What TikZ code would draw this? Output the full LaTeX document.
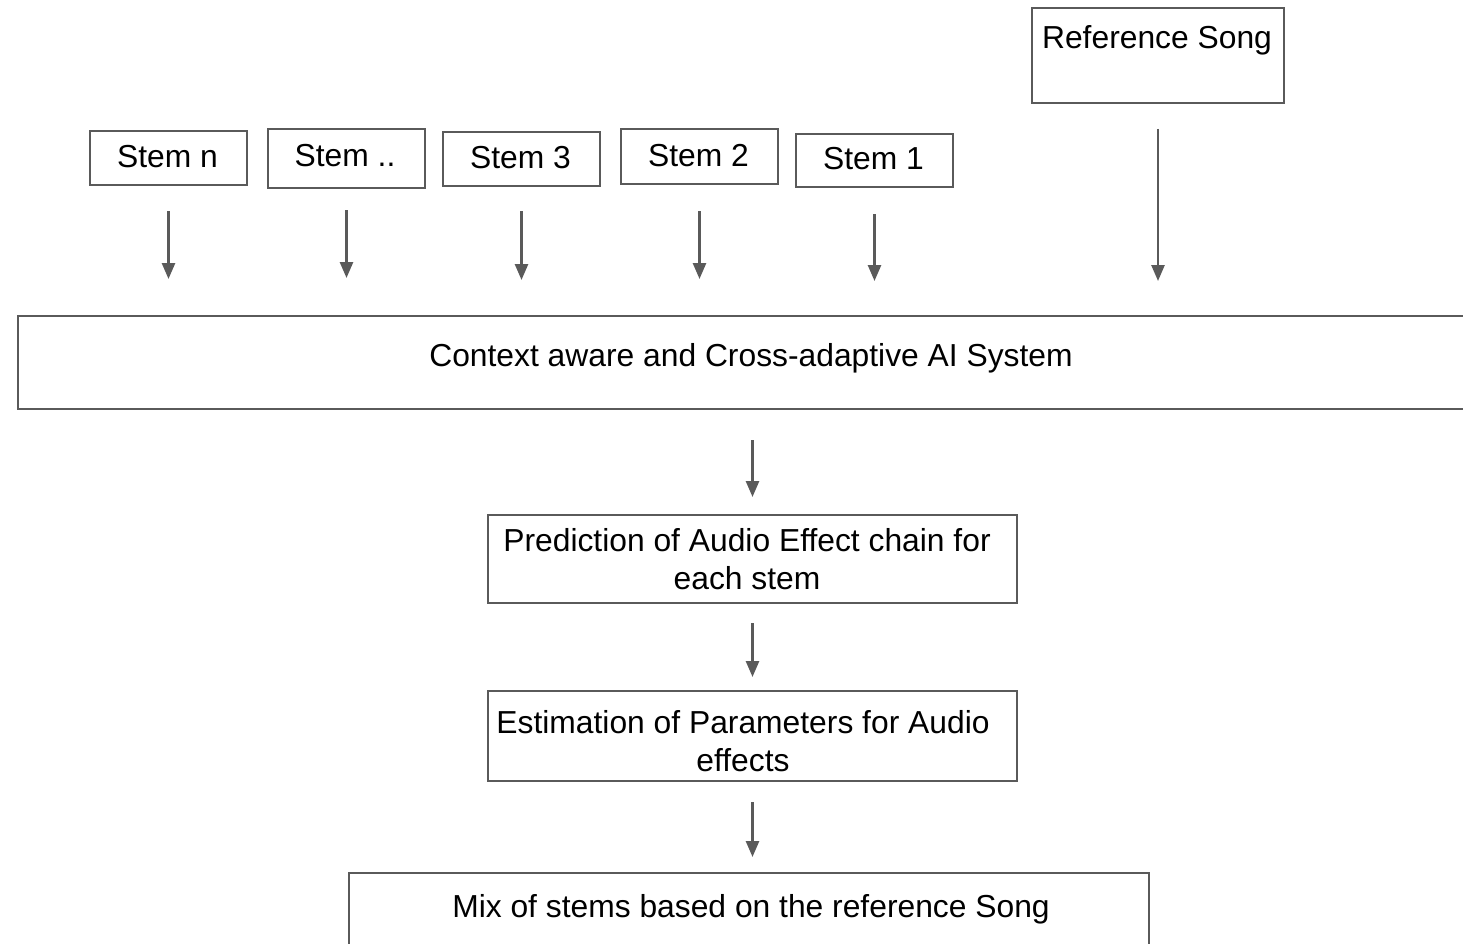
\documentclass[tikz,border=0pt]{standalone}
\usepackage{fontspec}
\setmainfont{Liberation Sans}
\usetikzlibrary{arrows.meta}
\definecolor{edgegray}{HTML}{5A5A5A}
\begin{document}
\begin{tikzpicture}[x=1pt,y=-1pt,
  box/.style={draw=edgegray,line width=2pt,rectangle,inner sep=0pt,anchor=north west},
  txt/.style={font=\fontsize{31.8}{38}\selectfont,inner sep=0pt,align=center,text=black},
  lowtxt/.style={txt,yshift=-3pt},
  arr/.style={draw=edgegray,line width=2.6pt,-{Triangle[length=16pt,width=13pt]}}]
\useasboundingbox (0,0) rectangle (1463,944);
\fill[white] (0,0) rectangle (1463,944);
\clip (0,0) rectangle (1463,944);

% reference input
\node[box,minimum width=252pt,minimum height=95pt] (ref) at (1031,7) {};
\node[lowtxt] (reft) at (1157,37) {Reference Song};

% stems
\node[box,minimum width=157pt,minimum height=54pt] (s5) at (89,130) {};
\node[txt] (s5t) at (167.5,157) {Stem n};
\node[box,minimum width=157pt,minimum height=59pt] (s4) at (267,128) {};
\node[txt] (s4t) at (345,156) {Stem ..};
\node[box,minimum width=157pt,minimum height=54pt] (s3) at (442,131) {};
\node[txt] (s3t) at (520.5,158) {Stem 3};
\node[box,minimum width=157pt,minimum height=55pt] (s2) at (620,128) {};
\node[txt] (s2t) at (698.5,156) {Stem 2};
\node[box,minimum width=157pt,minimum height=53pt] (s1) at (795,133) {};
\node[txt] (s1t) at (873.5,159) {Stem 1};

% system
\node[box,minimum width=1480pt,minimum height=93pt] (core) at (17,315) {};
\node[lowtxt] (coret) at (751,355) {Context aware and Cross-adaptive AI System};

% processing chain
\node[box,minimum width=529pt,minimum height=88pt] (pred) at (487,514) {};
\node[txt] (predt) at (747,559) {Prediction of Audio Effect chain for\\each stem};
\node[box,minimum width=529pt,minimum height=90pt] (est) at (487,690) {};
\node[txt] (estt) at (743,741) {Estimation of Parameters for Audio\\effects};
\node[box,minimum width=800pt,minimum height=100pt] (mix) at (348,872) {};
\node[lowtxt] (mixt) at (751,906) {Mix of stems based on the reference Song};

% connectors
\draw[arr,shorten <=25pt,shorten >=36pt] (s5.south) -- (s5.south |- core.north);
\draw[arr,shorten <=21pt,shorten >=37pt] (s4.south) -- (s4.south |- core.north);
\draw[arr,shorten <=24pt,shorten >=35pt] (s3.south) -- (s3.south |- core.north);
\draw[arr,shorten <=26pt,shorten >=36pt] (s2.south) -- (s2.south |- core.north);
\draw[arr,shorten <=26pt,shorten >=34pt] (s1.south) -- (s1.south |- core.north);
\draw[arr,shorten <=25pt,shorten >=34pt] (ref.south) -- (ref.south |- core.north);
\draw[arr,shorten <=30pt,shorten >=17pt] (pred.north |- core.south) -- (pred.north);
\draw[arr,shorten <=19pt,shorten >=13pt] (pred.south) -- (est.north);
\draw[arr,shorten <=20pt,shorten >=15pt] (est.south) -- (est.south |- mix.north);
\end{tikzpicture}
\end{document}
